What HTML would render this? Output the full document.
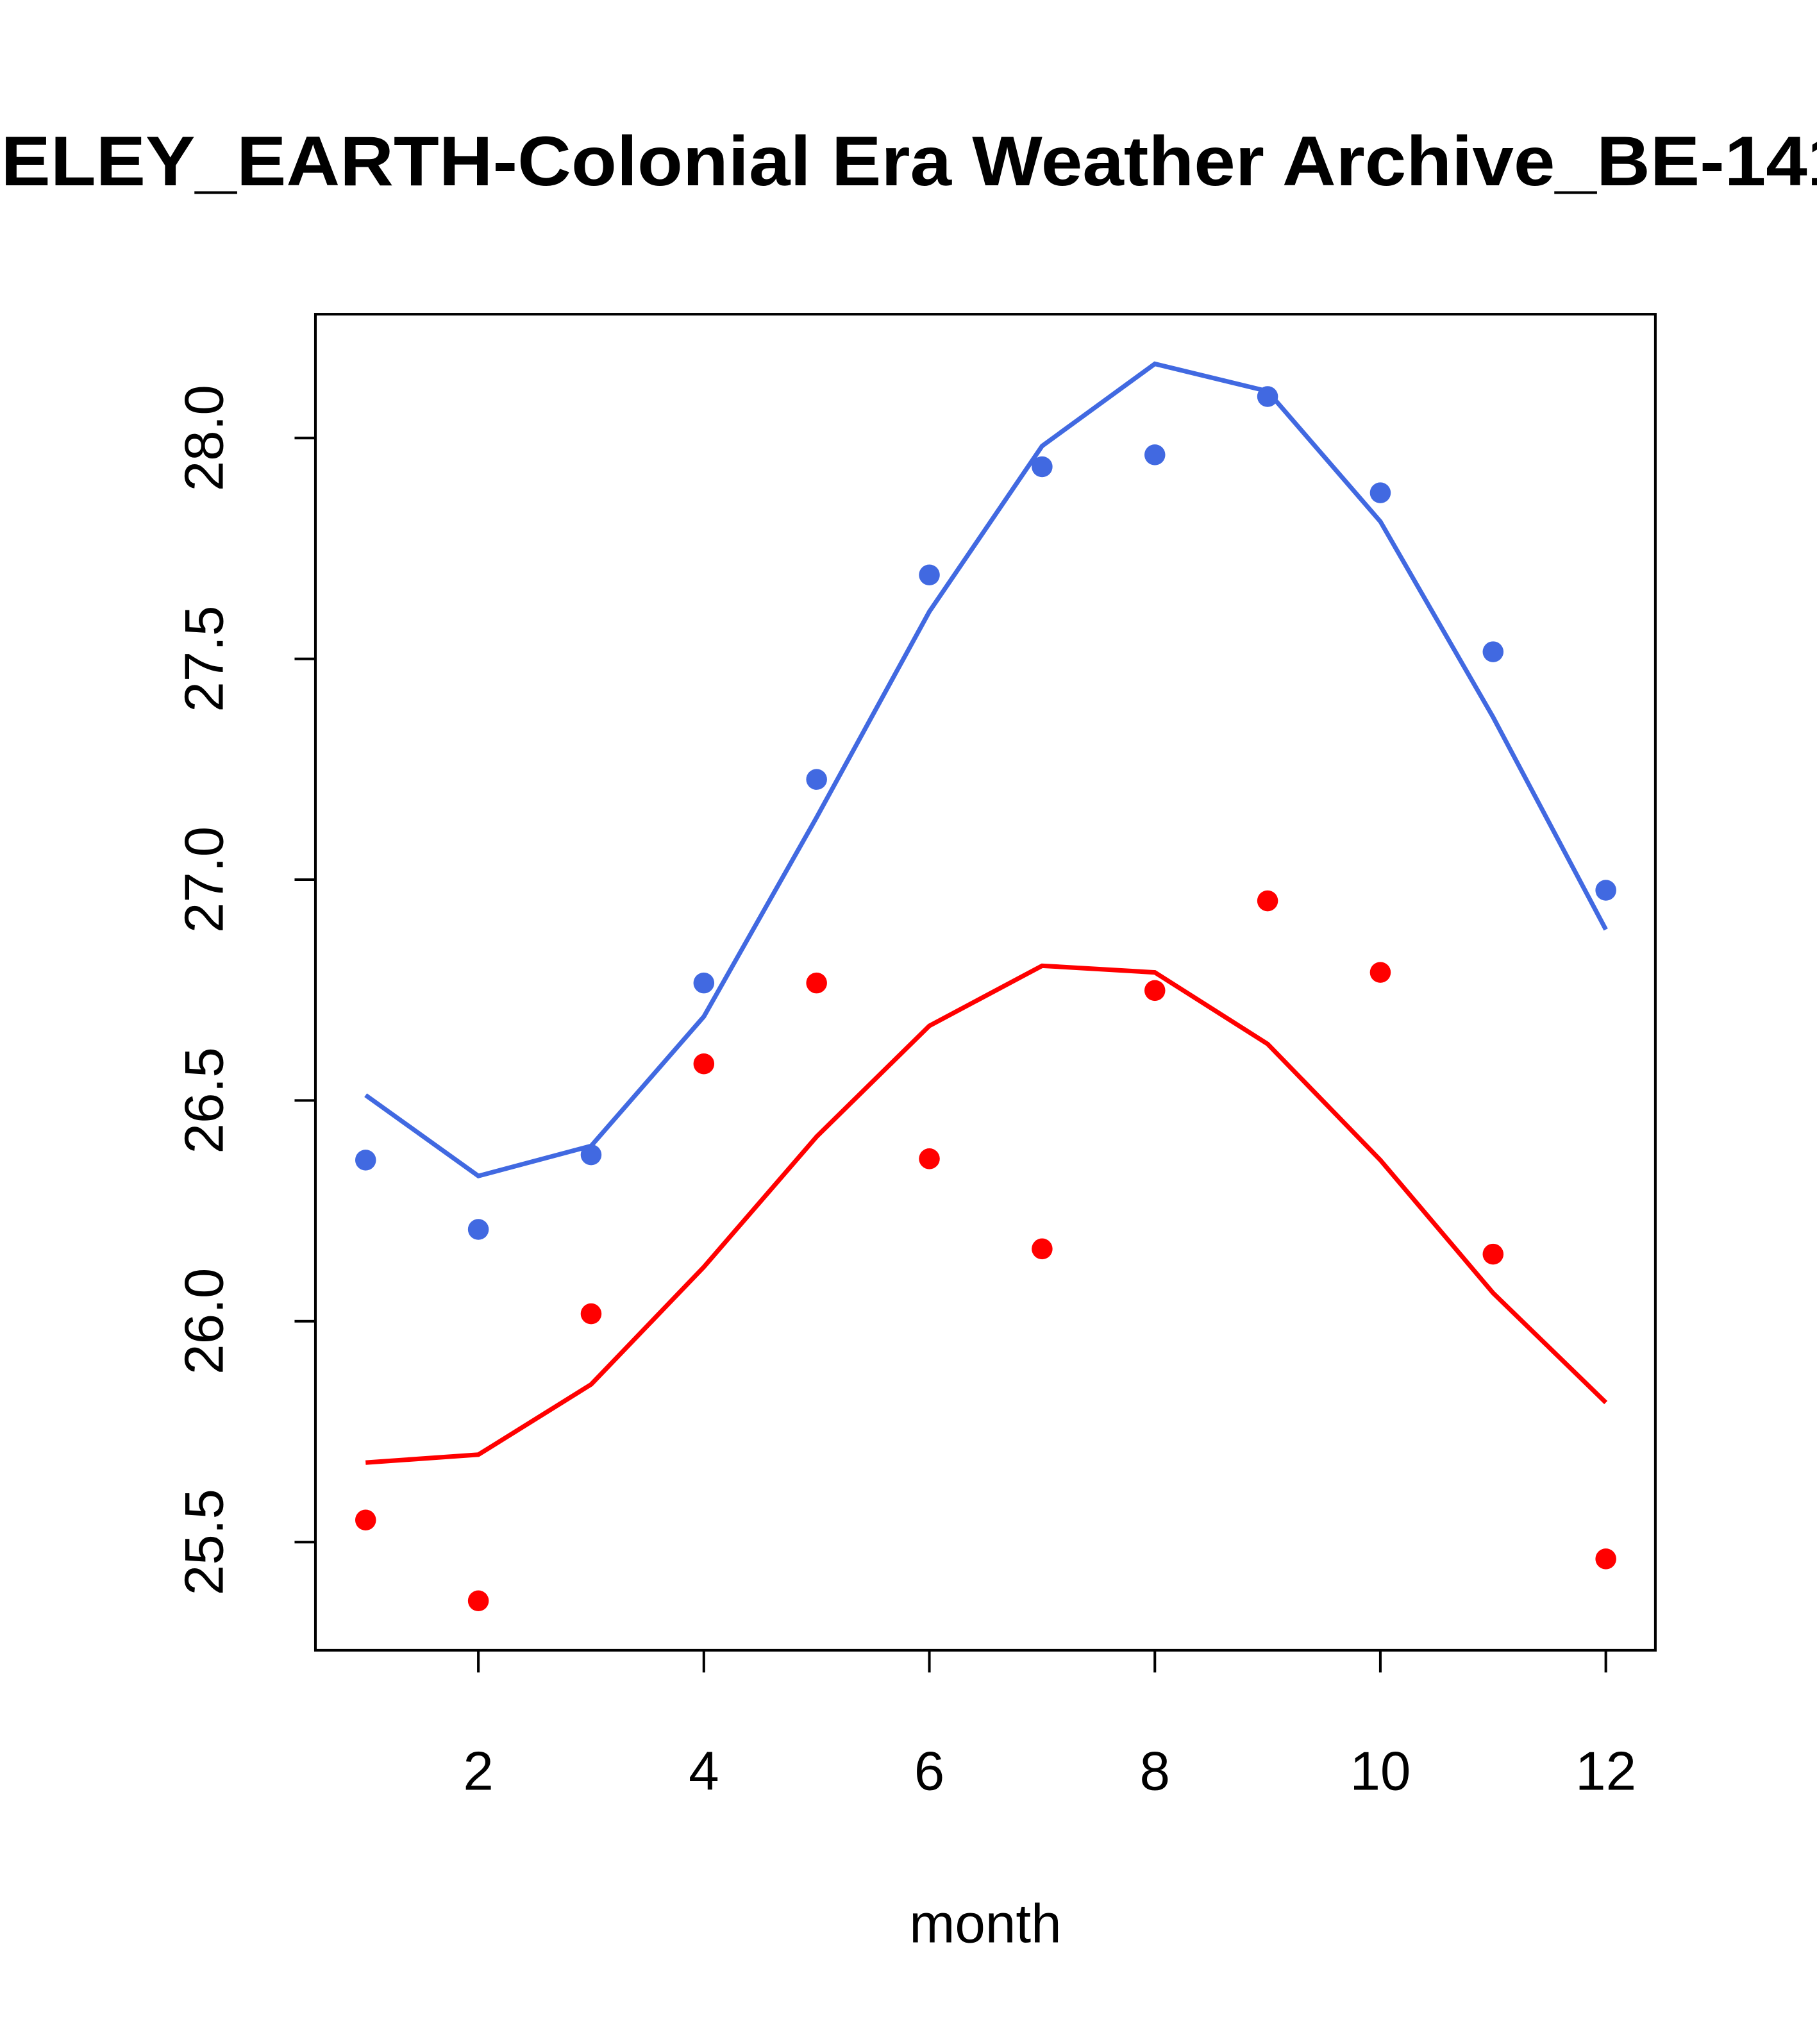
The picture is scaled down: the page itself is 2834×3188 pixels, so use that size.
<!DOCTYPE html>
<html><head><meta charset="utf-8"><style>html,body{margin:0;padding:0;background:#fff}svg{display:block}</style></head>
<body>
<svg width="2834" height="3188" viewBox="0 0 1394 1568" xmlns="http://www.w3.org/2000/svg" font-family="'Liberation Sans', Arial, sans-serif">
<rect width="1394" height="1568" fill="#fff"/>
<text x="-161" y="142" font-size="54" font-weight="bold" textLength="1611" lengthAdjust="spacingAndGlyphs">BERKELEY_EARTH-Colonial Era Weather Archive_BE-1418</text>
<rect x="242" y="241" width="1028" height="1025" fill="none" stroke="#000" stroke-width="2"/>
<g id="axes"></g>
<g id="marks"></g>
<text x="756" y="1490" font-size="42" text-anchor="middle">month</text>
</svg>
<script>
const months=[1,2,3,4,5,6,7,8,9,10,11,12];
const bluePoints=[26.365,26.208,26.377,26.766,27.227,27.69,27.935,27.962,28.094,27.876,27.516,26.976];
const blueLine=[26.512,26.329,26.397,26.69,27.141,27.607,27.982,28.168,28.106,27.811,27.368,26.887];
const redPoints=[25.55,25.367,26.017,26.583,26.766,26.368,26.164,26.749,26.952,26.79,26.152,25.462];
const redLine=[25.68,25.698,25.857,26.123,26.418,26.669,26.805,26.79,26.628,26.365,26.064,25.816];
const xTicks=[2,4,6,8,10,12];
const yTicks=[25.5,26.0,26.5,27.0,27.5,28.0];
const yTickLabels=["25.5","26.0","26.5","27.0","27.5","28.0"];
const NS="http://www.w3.org/2000/svg";
function xs(m){return 280.5+(m-1)*86.5;}
function ys(v){return 336+(28-v)*338.8;}
function mk(tag,attrs,parent){const e=document.createElementNS(NS,tag);for(const k in attrs)e.setAttribute(k,attrs[k]);parent.appendChild(e);return e;}
const axes=document.getElementById('axes'),marks=document.getElementById('marks');
xTicks.forEach(t=>{
  const l=mk('line',{x1:xs(t),x2:xs(t),y1:1266,y2:1283,stroke:'#000','stroke-width':2},axes);
  
  
  const tx=mk('text',{x:xs(t),y:1373,'font-size':42,'text-anchor':'middle'},axes);
  tx.textContent=t;
  
  
});
yTicks.forEach((t,i)=>{
  const l=mk('line',{x1:226,x2:242,y1:ys(t),y2:ys(t),stroke:'#000','stroke-width':2},axes);
  
  
  const tx=mk('text',{x:0,y:0,'font-size':42,'text-anchor':'middle',transform:`translate(171,${ys(t)}) rotate(-90)`},axes);
  tx.textContent=yTickLabels[i];
  
  
});
function series(pts,line,color,name){
  const p=mk('polyline',{points:months.map((m,i)=>xs(m)+','+ys(line[i])).join(' '),fill:'none',stroke:color,'stroke-width':3.5},marks);
  
  
  months.forEach((m,i)=>{
    const c=mk('circle',{cx:xs(m),cy:ys(pts[i]),r:8,fill:color},marks);
    
    
  });
}
series(bluePoints,blueLine,'#4169e1','blue');
series(redPoints,redLine,'#ff0000','red');
</script>
</body></html>
